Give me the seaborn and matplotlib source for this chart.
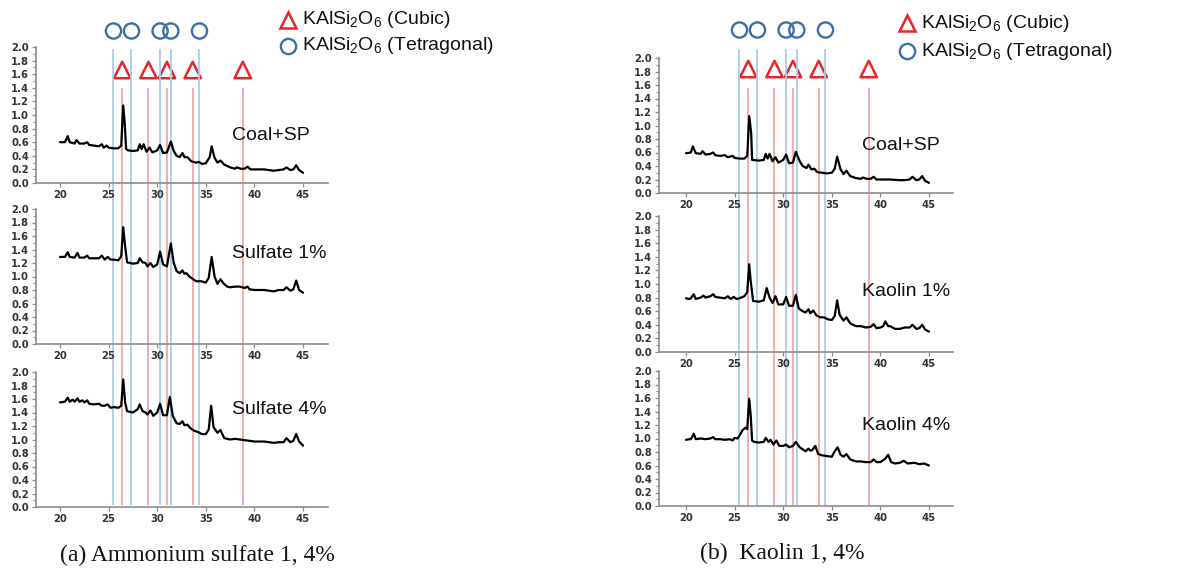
import numpy as np
import pandas as pd
import matplotlib
matplotlib.use("Agg")
import matplotlib.pyplot as plt
from matplotlib.ticker import MultipleLocator
import seaborn as sns

# ---------------- data ----------------
# (a) Coal+SP
x_a_coal = [20.0, 20.5, 20.8, 21.0, 21.5, 21.7, 22.0, 22.5, 22.8, 23.0, 23.5, 24.0, 24.3, 24.5, 24.8, 25.0,
            25.5, 26.0, 26.3, 26.5, 26.65, 26.8, 27.0, 27.5, 28.0, 28.2, 28.4, 28.6, 28.9, 29.2, 29.5, 30.0,
            30.3, 30.6, 31.0, 31.4, 31.7, 32.0, 32.3, 32.6, 32.8, 33.1, 33.5, 34.0, 34.3, 34.6, 35.0, 35.4,
            35.6, 35.9, 36.2, 36.5, 36.9, 37.5, 38.0, 38.2, 38.6, 39.0, 39.3, 39.6, 40.0, 41.0, 42.0, 42.5,
            43.0, 43.3, 43.7, 44.0, 44.3, 44.6, 45.0]
y_a_coal = [0.60, 0.60, 0.69, 0.60, 0.58, 0.63, 0.58, 0.58, 0.60, 0.56, 0.55, 0.54, 0.57, 0.52, 0.55, 0.52,
            0.51, 0.51, 0.55, 1.14, 0.90, 0.50, 0.48, 0.47, 0.48, 0.57, 0.50, 0.57, 0.46, 0.52, 0.45, 0.48,
            0.56, 0.44, 0.45, 0.61, 0.47, 0.40, 0.38, 0.44, 0.38, 0.38, 0.32, 0.30, 0.31, 0.28, 0.29, 0.38,
            0.54, 0.37, 0.30, 0.33, 0.27, 0.23, 0.21, 0.23, 0.21, 0.21, 0.24, 0.20, 0.20, 0.20, 0.18, 0.19,
            0.20, 0.23, 0.19, 0.20, 0.26, 0.19, 0.15]

# (a) Sulfate 1%
x_a_s1 = [20.0, 20.5, 20.8, 21.0, 21.5, 21.8, 22.0, 22.5, 22.8, 23.0, 23.5, 24.0, 24.3, 24.6, 24.9, 25.2,
          25.5, 26.0, 26.3, 26.5, 26.7, 26.9, 27.5, 28.0, 28.2, 28.5, 28.8, 29.0, 29.3, 29.6, 30.0, 30.3,
          30.6, 31.0, 31.4, 31.7, 32.0, 32.3, 32.6, 32.8, 33.0, 33.3, 33.7, 34.0, 34.5, 35.0, 35.3, 35.6,
          35.9, 36.2, 36.5, 36.8, 37.2, 37.5, 38.0, 38.5, 39.0, 39.3, 39.5, 40.0, 41.0, 42.0, 42.5, 43.0,
          43.3, 43.7, 44.0, 44.3, 44.6, 45.0]
y_a_s1 = [1.29, 1.29, 1.36, 1.29, 1.28, 1.35, 1.28, 1.28, 1.31, 1.27, 1.27, 1.27, 1.31, 1.25, 1.29, 1.25,
          1.25, 1.24, 1.30, 1.73, 1.45, 1.21, 1.19, 1.20, 1.27, 1.21, 1.20, 1.15, 1.20, 1.14, 1.18, 1.37,
          1.18, 1.15, 1.49, 1.20, 1.08, 1.05, 1.09, 1.04, 1.05, 1.00, 0.96, 0.93, 0.93, 0.91, 0.98, 1.29,
          1.00, 0.89, 0.96, 0.90, 0.85, 0.84, 0.85, 0.85, 0.83, 0.85, 0.81, 0.80, 0.80, 0.78, 0.80, 0.80,
          0.84, 0.79, 0.81, 0.94, 0.80, 0.76]

# (a) Sulfate 4%
x_a_s4 = [20.0, 20.5, 20.8, 21.0, 21.3, 21.5, 21.8, 22.0, 22.3, 22.5, 22.8, 23.0, 23.5, 24.0, 24.3, 24.6,
          24.9, 25.2, 25.5, 26.0, 26.3, 26.5, 26.7, 26.9, 27.5, 28.0, 28.2, 28.5, 28.8, 29.0, 29.3, 29.6,
          30.0, 30.3, 30.6, 31.0, 31.3, 31.6, 32.0, 32.3, 32.6, 32.8, 33.1, 33.4, 33.8, 34.2, 34.6, 35.0,
          35.3, 35.55, 35.8, 36.2, 36.5, 36.9, 37.5, 38.0, 38.5, 39.0, 39.5, 40.0, 41.0, 42.0, 42.5, 43.0,
          43.3, 43.7, 44.0, 44.3, 44.6, 45.0]
y_a_s4 = [1.55, 1.56, 1.62, 1.56, 1.59, 1.56, 1.61, 1.56, 1.58, 1.55, 1.58, 1.53, 1.52, 1.53, 1.50, 1.50,
          1.52, 1.47, 1.48, 1.47, 1.50, 1.89, 1.55, 1.42, 1.40, 1.45, 1.52, 1.42, 1.40, 1.37, 1.43, 1.35,
          1.40, 1.53, 1.36, 1.36, 1.63, 1.35, 1.24, 1.23, 1.27, 1.21, 1.22, 1.17, 1.13, 1.11, 1.08, 1.08,
          1.15, 1.50, 1.18, 1.10, 1.14, 1.02, 1.00, 1.01, 1.00, 0.99, 0.98, 0.97, 0.97, 0.95, 0.96, 0.96,
          1.02, 0.96, 0.98, 1.08, 0.97, 0.91]

# (b) Coal+SP
x_b_coal = [20.0, 20.5, 20.7, 21.0, 21.5, 21.7, 22.0, 22.5, 22.8, 23.0, 23.5, 24.0, 24.3, 24.8, 25.0, 25.5,
            26.0, 26.3, 26.5, 26.7, 26.8, 27.5, 28.0, 28.2, 28.4, 28.6, 28.9, 29.2, 29.5, 30.0, 30.3, 30.6,
            31.0, 31.3, 31.7, 32.0, 32.4, 32.6, 32.9, 33.2, 33.5, 34.0, 34.5, 35.0, 35.3, 35.55, 35.9, 36.2,
            36.5, 36.9, 37.5, 38.0, 38.2, 38.6, 39.0, 39.3, 39.6, 40.0, 41.0, 42.0, 42.5, 43.0, 43.3, 43.7,
            44.0, 44.3, 44.6, 45.0]
y_b_coal = [0.59, 0.60, 0.69, 0.59, 0.58, 0.62, 0.57, 0.58, 0.60, 0.56, 0.55, 0.56, 0.53, 0.55, 0.52, 0.51,
            0.51, 0.55, 1.14, 0.90, 0.49, 0.48, 0.49, 0.58, 0.51, 0.58, 0.47, 0.53, 0.45, 0.49, 0.57, 0.44,
            0.45, 0.61, 0.47, 0.40, 0.37, 0.42, 0.35, 0.36, 0.31, 0.30, 0.29, 0.30, 0.36, 0.54, 0.35, 0.28,
            0.33, 0.25, 0.22, 0.21, 0.23, 0.21, 0.21, 0.24, 0.20, 0.20, 0.20, 0.19, 0.19, 0.20, 0.24, 0.19,
            0.20, 0.25, 0.18, 0.15]

# (b) Kaolin 1%
x_b_k1 = [20.0, 20.3, 20.5, 20.8, 21.0, 21.5, 21.8, 22.0, 22.5, 22.8, 23.0, 23.5, 24.0, 24.3, 24.6, 24.9,
          25.2, 25.5, 26.0, 26.3, 26.5, 26.65, 26.9, 27.5, 28.0, 28.3, 28.6, 28.9, 29.2, 29.5, 30.0, 30.3,
          30.6, 31.0, 31.3, 31.6, 32.0, 32.3, 32.6, 32.8, 33.1, 33.4, 33.8, 34.2, 34.6, 35.0, 35.3, 35.55,
          35.8, 36.2, 36.5, 36.9, 37.5, 38.0, 38.5, 39.0, 39.3, 39.6, 40.0, 40.3, 40.5, 40.8, 41.0, 41.5,
          42.0, 42.5, 43.0, 43.3, 43.7, 44.0, 44.3, 44.6, 45.0]
y_b_k1 = [0.79, 0.78, 0.79, 0.85, 0.78, 0.80, 0.83, 0.80, 0.82, 0.85, 0.81, 0.80, 0.79, 0.82, 0.78, 0.81,
          0.78, 0.79, 0.82, 0.88, 1.29, 1.05, 0.75, 0.74, 0.76, 0.94, 0.80, 0.72, 0.82, 0.70, 0.70, 0.81,
          0.68, 0.68, 0.84, 0.64, 0.60, 0.58, 0.63, 0.57, 0.61, 0.54, 0.51, 0.51, 0.48, 0.47, 0.53, 0.76,
          0.55, 0.46, 0.51, 0.42, 0.38, 0.38, 0.36, 0.37, 0.41, 0.35, 0.36, 0.38, 0.45, 0.38, 0.38, 0.34,
          0.34, 0.36, 0.36, 0.40, 0.34, 0.35, 0.40, 0.33, 0.30]

# (b) Kaolin 4%
x_b_k4 = [20.0, 20.3, 20.5, 20.8, 21.0, 21.5, 22.0, 22.5, 22.8, 23.0, 23.5, 24.0, 24.5, 24.8, 25.0, 25.3,
          25.5, 25.8, 26.1, 26.3, 26.5, 26.65, 26.8, 27.0, 27.5, 28.0, 28.2, 28.5, 28.7, 29.0, 29.3, 29.6,
          30.0, 30.3, 30.6, 31.0, 31.3, 31.7, 32.0, 32.3, 32.6, 32.8, 33.0, 33.3, 33.6, 34.0, 34.5, 35.0,
          35.3, 35.6, 35.9, 36.2, 36.5, 36.9, 37.5, 38.0, 38.5, 39.0, 39.3, 39.6, 40.0, 40.5, 40.8, 41.1,
          41.5, 42.0, 42.4, 42.8, 43.5, 44.0, 44.5, 45.0]
y_b_k4 = [0.98, 0.99, 0.99, 1.07, 0.99, 1.00, 0.99, 1.00, 1.02, 0.99, 0.99, 0.98, 0.99, 0.97, 1.01, 1.00,
          1.04, 1.12, 1.16, 1.14, 1.59, 1.35, 0.97, 0.95, 0.94, 0.95, 1.01, 0.95, 0.98, 0.91, 0.97, 0.89,
          0.89, 0.91, 0.87, 0.89, 0.95, 0.87, 0.84, 0.81, 0.85, 0.82, 0.83, 0.89, 0.77, 0.75, 0.74, 0.73,
          0.81, 0.87, 0.76, 0.73, 0.77, 0.69, 0.66, 0.66, 0.65, 0.65, 0.69, 0.65, 0.65, 0.70, 0.76, 0.65,
          0.63, 0.64, 0.67, 0.63, 0.64, 0.62, 0.63, 0.60]

cubic_peaks = [26.4, 29.1, 31.0, 33.65, 38.8]
tetragonal_peaks = [25.5, 27.35, 30.3, 31.4, 34.35]

labels_a = ["Coal+SP", "Sulfate 1%", "Sulfate 4%"]
labels_b = ["Coal+SP", "Kaolin 1%", "Kaolin 4%"]
captions = ["(a) Ammonium sulfate 1, 4%", "(b)  Kaolin 1, 4%"]
legend_labels = ["KAlSi$_2$O$_6$ (Cubic)", "KAlSi$_2$O$_6$ (Tetragonal)"]
x_ticks = [20, 25, 30, 35, 40, 45]

# ---------------- styling ----------------
sns.set_style("ticks")
plt.rcParams["font.family"] = ["Liberation Sans", "DejaVu Sans"]
plt.rcParams["mathtext.fontset"] = "custom"
plt.rcParams["mathtext.rm"] = "Liberation Sans"
plt.rcParams["mathtext.it"] = "Liberation Sans"
plt.rcParams["mathtext.default"] = "rm"

W, H = 1201, 568
fig = plt.figure(figsize=(W / 100, H / 100), dpi=100)
fig.patch.set_facecolor("white")

RED = "#e8262a"
BLUE = "#3c6fa6"
RED_LINE = "#f4a6a6"
BLUE_LINE = "#a9cdec"


def add_ax(left, right, top, bottom):
    return fig.add_axes([left / W, 1 - bottom / H, (right - left) / W, (bottom - top) / H])


def fx(px):
    return px / W


def fy(py):
    return 1 - py / H


panels = [
    dict(left=36, right=328, xlim=(17.53, 47.57),
         rows=[(47, 183), (209, 344), (372, 507)],
         curves=[(x_a_coal, y_a_coal), (x_a_s1, y_a_s1), (x_a_s4, y_a_s4)],
         labels=labels_a, label_x=232, label_y=[136, 253, 409],
         circ_y=31, tri_y=70, blue_top=49, red_top=88, line_bottom=505,
         leg_x=288, leg_y=[20, 46], caption=captions[0], cap_x=197, cap_y=555),
    dict(left=659, right=953, xlim=(17.22, 47.47),
         rows=[(58, 193), (216, 352), (371, 506)],
         curves=[(x_b_coal, y_b_coal), (x_b_k1, y_b_k1), (x_b_k4, y_b_k4)],
         labels=labels_b, label_x=862, label_y=[146, 292, 425],
         circ_y=30, tri_y=69, blue_top=49, red_top=88, line_bottom=505,
         leg_x=907, leg_y=[23, 51], caption=captions[1], cap_x=782, cap_y=553),
]

for p in panels:
    # overlay axes for reference lines and markers (pixel y-units)
    ov = add_ax(p["left"], p["right"], 0, H)
    ov.set_xlim(*p["xlim"])
    ov.set_ylim(H, 0)
    ov.axis("off")
    ov.vlines(tetragonal_peaks, p["blue_top"], p["line_bottom"], colors=BLUE_LINE, linewidth=1.3)
    ov.vlines(cubic_peaks, p["red_top"], p["line_bottom"], colors=RED_LINE, linewidth=1.3)
    sns.scatterplot(x=tetragonal_peaks, y=[p["circ_y"]] * len(tetragonal_peaks), ax=ov,
                    marker="o", s=120, facecolors="none", edgecolor=BLUE, linewidth=1.7)
    sns.scatterplot(x=cubic_peaks, y=[p["tri_y"]] * len(cubic_peaks), ax=ov,
                    marker="^", s=140, facecolors="none", edgecolor=RED, linewidth=1.8)

    for i, ((top, bottom), (xs, ys)) in enumerate(zip(p["rows"], p["curves"])):
        ax = add_ax(p["left"], p["right"], top, bottom)
        ax.set_facecolor("none")
        df = pd.DataFrame({"two_theta": xs, "intensity": ys})
        sns.lineplot(data=df, x="two_theta", y="intensity", ax=ax, color="black",
                     linewidth=1.6, estimator=None, sort=False)
        ax.set_xlim(*p["xlim"])
        ax.set_ylim(0, 2.0)
        ax.set_xticks(x_ticks)
        ax.yaxis.set_major_locator(MultipleLocator(0.2))
        ax.yaxis.set_minor_locator(MultipleLocator(0.1))
        ax.set_yticklabels([f"{v:.1f}" for v in ax.get_yticks()])
        ax.set_xlabel("")
        ax.set_ylabel("")
        for s in ["top", "right"]:
            ax.spines[s].set_visible(False)
        for s in ["left", "bottom"]:
            ax.spines[s].set_color("#8c8c8c")
            ax.spines[s].set_linewidth(1.2)
        ax.tick_params(axis="both", which="major", length=3, width=0.9, color="#8c8c8c",
                       labelsize=7.2, labelcolor="#333333", pad=2)
        ax.tick_params(axis="y", which="minor", length=2, width=0.8, color="#8c8c8c")
        for lab in ax.get_xticklabels() + ax.get_yticklabels():
            lab.set_fontfamily("DejaVu Sans")
            lab.set_fontweight("bold")
        fig.text(fx(p["label_x"]), fy(p["label_y"][i]), p["labels"][i], fontsize=14,
                 ha="left", va="center", color="#111111")

    # legend
    lx = p["leg_x"]
    fig.lines.append(plt.Line2D([fx(lx)], [fy(p["leg_y"][0])], marker="^", markersize=12,
                                markerfacecolor="none", markeredgecolor=RED, markeredgewidth=1.8,
                                transform=fig.transFigure))
    fig.lines.append(plt.Line2D([fx(lx)], [fy(p["leg_y"][1])], marker="o", markersize=11,
                                markerfacecolor="none", markeredgecolor=BLUE, markeredgewidth=1.7,
                                transform=fig.transFigure))
    for k in range(2):
        fig.text(fx(lx + 14), fy(p["leg_y"][k]), legend_labels[k], fontsize=14,
                 ha="left", va="center", color="#111111")

    fig.text(fx(p["cap_x"]), fy(p["cap_y"]), p["caption"], fontsize=17,
             family=["Liberation Serif", "DejaVu Serif"], ha="center", va="center", color="#111111")

fig.savefig("out.png", dpi=100, facecolor="white")
